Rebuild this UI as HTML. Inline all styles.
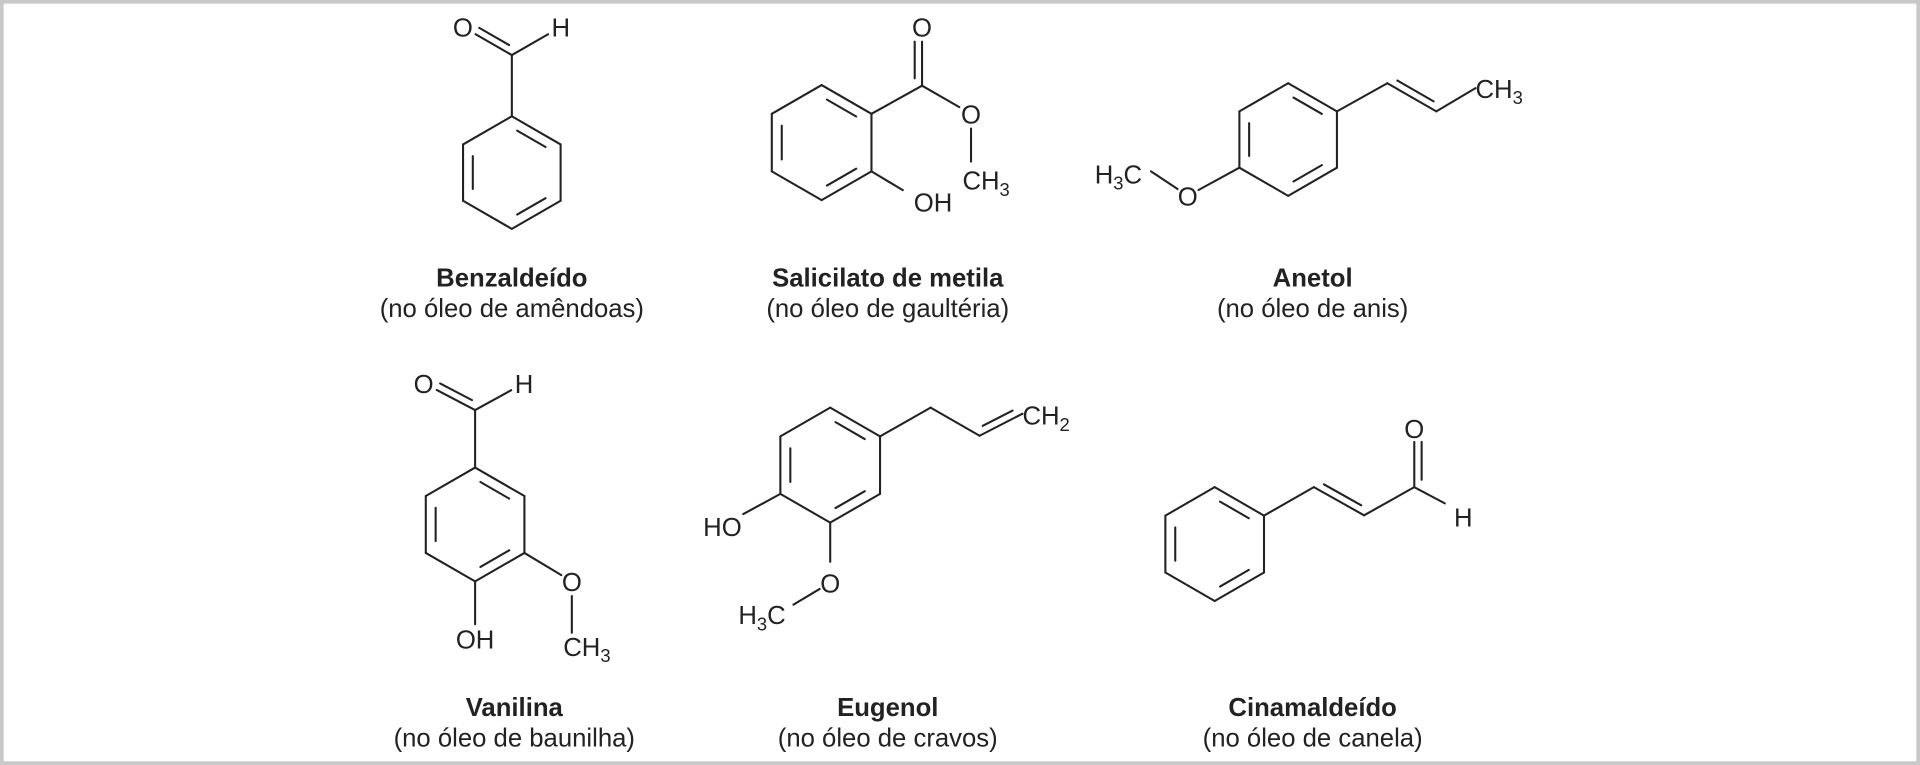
<!DOCTYPE html>
<html><head><meta charset="utf-8"><style>
html,body{margin:0;padding:0;background:#fff;}
svg{display:block;}
text{font-family:"Liberation Sans",Arial,sans-serif;fill:#222;}
.t{font-size:21px;}
.b{font-weight:bold;font-size:21px;text-anchor:middle;}
.n{font-size:21px;text-anchor:middle;}
</style></head><body>
<svg id="s" width="1920" height="765" viewBox="0 0 1568 625" preserveAspectRatio="none" xmlns="http://www.w3.org/2000/svg">
<rect x="1.5" y="1.5" width="1565" height="622" fill="#fff" stroke="#c8c8c8" stroke-width="3"/>
<g id="g" stroke="#222" stroke-width="1.7" fill="none" stroke-linecap="round"></g>
<g id="lab"></g>
<text class="b" x="418" y="234">Benzaldeído</text>
<text class="n" x="418" y="259">(no óleo de amêndoas)</text>
<text class="b" x="725" y="234">Salicilato de metila</text>
<text class="n" x="725" y="259">(no óleo de gaultéria)</text>
<text class="b" x="1072" y="234">Anetol</text>
<text class="n" x="1072" y="259">(no óleo de anis)</text>
<text class="b" x="420" y="585">Vanilina</text>
<text class="n" x="420" y="610">(no óleo de baunilha)</text>
<text class="b" x="725" y="585">Eugenol</text>
<text class="n" x="725" y="610">(no óleo de cravos)</text>
<text class="b" x="1072" y="585">Cinamaldeído</text>
<text class="n" x="1072" y="610">(no óleo de canela)</text>
</svg>
<script>
var g=document.getElementById('g'),L=document.getElementById('lab');
var NS='http://www.w3.org/2000/svg';
function ln(x1,y1,x2,y2){var e=document.createElementNS(NS,'line');e.setAttribute('x1',x1);e.setAttribute('y1',y1);e.setAttribute('x2',x2);e.setAttribute('y2',y2);g.appendChild(e);}
function bond(a,b,sa,sb){var dx=b[0]-a[0],dy=b[1]-a[1],d=Math.hypot(dx,dy),ux=dx/d,uy=dy/d;sa=sa||0;sb=sb||0;ln(a[0]+ux*sa,a[1]+uy*sa,b[0]-ux*sb,b[1]-uy*sb);}
function dbl(a,b,side,sa,sb){bond(a,b,sa,sb);var dx=b[0]-a[0],dy=b[1]-a[1],d=Math.hypot(dx,dy),ux=dx/d,uy=dy/d,px=-uy*6*side,py=ux*6*side;bond([a[0]+px,a[1]+py],[b[0]+px,b[1]+py],(sa||0)+(sa?0:6),(sb||0)+(sb?0:6));}
function ring(cx,cy,r){var v=[];for(var i=0;i<6;i++){var an=(-90+60*i)*Math.PI/180;v.push([cx+r*Math.cos(an),cy+r*Math.sin(an)]);}
for(var i=0;i<6;i++)bond(v[i],v[(i+1)%6]);
[[0,1],[2,3],[4,5]].forEach(function(p){var a=v[p[0]],b=v[p[1]];var k=0.8;var a2=[cx+(a[0]-cx)*k,cy+(a[1]-cy)*k],b2=[cx+(b[0]-cx)*k,cy+(b[1]-cy)*k];bond(a2,b2,5,5);});return v;}
function t(x,y,html,anchor){var e=document.createElementNS(NS,'text');e.setAttribute('x',x);e.setAttribute('y',y);e.setAttribute('class','t');if(anchor)e.setAttribute('text-anchor',anchor);e.innerHTML=html;L.appendChild(e);}
var sub=function(n){return '<tspan font-size="15" dy="5">'+n+'</tspan>';};
var v=ring(418,141,46);
var C=[418,45];bond(v[0],C);dbl(C,[378,22],1,0,12);bond(C,[458,22],0,12);
t(378,30,'O','middle');t(458,30,'H','middle');
v=ring(671,116.5,47);
C=[753,70];bond(v[1],C);dbl(C,[753,22],-1,0,12);bond(C,[793,93],0,11);bond([793,93],[793,140],12,8);
bond(v[2],[745,160],0,9);
t(753,30,'O','middle');t(793,101,'O','middle');t(786,155,'CH'+sub(3));t(762,173,'OH','middle');
v=ring(1052,114,46);
var p1=[1133,68],p2=[1173,91];bond(v[1],p1);dbl(p1,p2,-1);bond(p2,[1205,72],0,0);
t(1205,80,'CH'+sub(3));
bond(v[4],[970,160],0,10);bond([970,160],[940,140],10,0);
t(970,168,'O','middle');t(894,150,'H'+sub(3)+'<tspan dy="-5">C</tspan>');
v=ring(388,428.5,46.5);
C=[388,335];bond(v[0],C);dbl(C,[346,313],1,0,12);bond(C,[428,313],0,12);
t(346,321,'O','middle');t(428,321,'H','middle');
bond(v[2],[467,475],0,10);bond([467,475],[467,523],12,6);
t(467,483,'O','middle');t(460,536,'CH'+sub(3));
bond(v[3],[388,510],0,0);t(388,530,'OH','middle');
v=ring(678,380,47);
var a1=[760,333],a2=[800,356],a3=[835,338];bond(v[1],a1);bond(a1,a2);dbl(a2,a3,-1,0,0);
t(835,347,'CH'+sub(2));
bond(v[4],[607,420],0,0);t(590,438,'HO','middle');
bond(v[3],[678,468],0,9);bond([678,476],[648,494],10,0);
t(678,484,'O','middle');t(603,510,'H'+sub(3)+'<tspan dy="-5">C</tspan>');
v=ring(992,444.5,46.5);
var c1=[1073,398],c2=[1114,421],c3=[1155,398];bond(v[1],c1);dbl(c1,c2,-1);bond(c2,c3);
dbl(c3,[1155,350],1,0,11);bond(c3,[1187,415],0,8);
t(1155,358,'O','middle');t(1195,430,'H','middle');
</script>
</body></html>
